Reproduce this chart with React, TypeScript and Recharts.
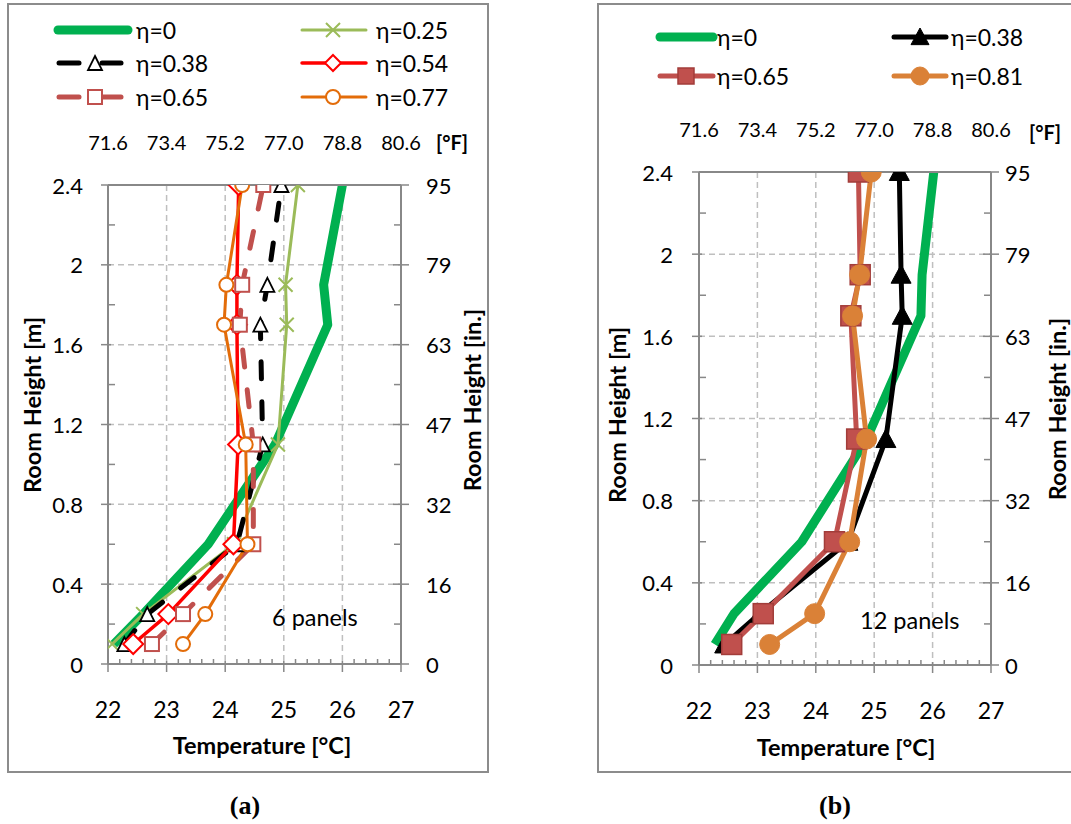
import React from "react";
import { LineChart, Line, XAxis, YAxis, CartesianGrid } from "recharts";

// measuring heights [m]
const heights = [0.1, 0.25, 0.6, 1.1, 1.7, 1.9, 2.4];

// (a) 6 panels, temperatures [°C] at each height
const aEta0 = [22.1, 22.6, 23.71, 24.85, 25.75, 25.68, 26.0];
const aEta025 = [22.07, 22.6, 24.15, 24.9, 25.05, 25.03, 25.24];
const aEta038 = [22.28, 22.67, 24.2, 24.64, 24.6, 24.72, 24.96];
const aEta054 = [22.43, 23.03, 24.14, 24.22, 24.2, 24.2, 24.23];
const aEta065 = [22.75, 23.28, 24.48, 24.48, 24.25, 24.29, 24.65];
const aEta077 = [23.28, 23.66, 24.38, 24.35, 23.98, 24.02, 24.29];

// (b) 12 panels
const bEta0 = [22.27, 22.6, 23.76, 24.87, 25.8, 25.82, 26.02];
const bEta038 = [22.44, 23.04, 24.55, 25.2, 25.48, 25.46, 25.43];
const bEta065 = [22.56, 23.1, 24.32, 24.7, 24.6, 24.76, 24.73];
const bEta081 = [23.21, 23.98, 24.58, 24.87, 24.63, 24.75, 24.95];

const aNames = ["η=0", "η=0.25", "η=0.38", "η=0.54", "η=0.65", "η=0.77"];
const bNames = ["η=0", "η=0.38", "η=0.65", "η=0.81"];

const xTicks = [
  22, 22.2, 22.4, 22.6, 22.8, 23, 23.2, 23.4, 23.6, 23.8, 24, 24.2, 24.4, 24.6, 24.8,
  25, 25.2, 25.4, 25.6, 25.8, 26, 26.2, 26.4, 26.6, 26.8, 27,
];
const xMajor = [22, 23, 24, 25, 26, 27];
const xLabels = ["22", "23", "24", "25", "26", "27"];
const fLabels = ["71.6", "73.4", "75.2", "77.0", "78.8", "80.6"];
const yTicks = [0, 0.2, 0.4, 0.6, 0.8, 1, 1.2, 1.4, 1.6, 1.8, 2, 2.2, 2.4];
const yMajor = [0, 0.4, 0.8, 1.2, 1.6, 2, 2.4];
const mLabels = ["0", "0.4", "0.8", "1.2", "1.6", "2", "2.4"];
const inLabels = ["0", "16", "32", "47", "63", "79", "95"];
const gridX = [23, 24, 25, 26];
const gridY = [0.4, 0.8, 1.2, 1.6, 2];

const FONT = "Lato, 'Open Sans', 'DejaVu Sans', sans-serif";
const AXIS = "#888888";
const GRID = "#BFBFBF";

const GREEN = "#00B050";
const LGREEN = "#9BBB59";
const RED = "#FF0000";
const BROWN = "#C0504D";
const ORANGE = "#E36C09";
const ORANGE2 = "#DA8137";

const toSeries = (temps: number[]) => heights.map((h, i) => ({ t: temps[i], h }));
const idx = (v: number, list: number[]) => list.findIndex((m) => Math.abs(m - v) < 1e-6);

// markers
const cross = (cx: number, cy: number, s = 7) => (
  <path d={`M${cx - s},${cy - s}L${cx + s},${cy + s}M${cx - s},${cy + s}L${cx + s},${cy - s}`} stroke={LGREEN} strokeWidth={2} fill="none" />
);
const openTri = (cx: number, cy: number, s = 7) => (
  <path d={`M${cx},${cy - s}L${cx + s},${cy + s}L${cx - s},${cy + s}Z`} fill="#fff" stroke="#000" strokeWidth={1.8} />
);
const openDiamond = (cx: number, cy: number, s = 10) => (
  <path d={`M${cx},${cy - s}L${cx + s},${cy}L${cx},${cy + s}L${cx - s},${cy}Z`} fill="#fff" stroke={RED} strokeWidth={2} />
);
const openSquare = (cx: number, cy: number, s = 7) => (
  <rect x={cx - s} y={cy - s} width={2 * s} height={2 * s} fill="#fff" stroke={BROWN} strokeWidth={2} />
);
const openCircle = (cx: number, cy: number, r = 7) => (
  <circle cx={cx} cy={cy} r={r} fill="#fff" stroke={ORANGE} strokeWidth={2} />
);
const fillTri = (cx: number, cy: number, s = 10) => (
  <path d={`M${cx},${cy - s}L${cx + s},${cy + s * 0.85}L${cx - s},${cy + s * 0.85}Z`} fill="#000" stroke="#000" strokeWidth={1} />
);
const fillSquare = (cx: number, cy: number, s = 10) => (
  <rect x={cx - s} y={cy - s} width={2 * s} height={2 * s} fill={BROWN} stroke="#A23D3A" strokeWidth={1.5} />
);
const fillCircle = (cx: number, cy: number, r = 10) => (
  <circle cx={cx} cy={cy} r={r} fill={ORANGE2} stroke={ORANGE2} strokeWidth={1} />
);

const dotOf = (mk: (cx: number, cy: number) => React.ReactElement) => (p: any) =>
  p.cx == null ? <g key={p.index} /> : <g key={p.index}>{mk(p.cx, p.cy)}</g>;

// ticks
const leftTick = (gap: number) => (p: any) => {
  const { x, y, payload } = p;
  const i = idx(payload.value, yMajor);
  if (i < 0) return <line x1={x} x2={x + 7} y1={y} y2={y} stroke={AXIS} strokeWidth={1.5} />;
  return (
    <g>
      <line x1={x - 7} x2={x + 3} y1={y} y2={y} stroke={AXIS} strokeWidth={1.5} />
      <text x={x - gap} y={y} textAnchor="end" dominantBaseline="central" fontSize={22} fontFamily={FONT} fill="#000">
        {mLabels[i]}
      </text>
    </g>
  );
};
const rightTick = (gap: number) => (p: any) => {
  const { x, y, payload } = p;
  const i = idx(payload.value, yMajor);
  if (i < 0) return <line x1={x - 7} x2={x} y1={y} y2={y} stroke={AXIS} strokeWidth={1.5} />;
  return (
    <g>
      <line x1={x - 8} x2={x + 8} y1={y} y2={y} stroke={AXIS} strokeWidth={1.5} />
      <text x={x + gap} y={y} textAnchor="start" dominantBaseline="central" fontSize={22} fontFamily={FONT} fill="#000">
        {inLabels[i]}
      </text>
    </g>
  );
};
const bottomTick = (p: any) => {
  const { x, y, payload } = p;
  const i = idx(payload.value, xMajor);
  if (i < 0) return <line x1={x} x2={x} y1={y - 5} y2={y} stroke={AXIS} strokeWidth={1.5} />;
  return (
    <g>
      <line x1={x} x2={x} y1={y - 3} y2={y + 8} stroke={AXIS} strokeWidth={1.5} />
      <text x={x} y={y + 54} textAnchor="middle" fontSize={23} fontFamily={FONT} fill="#000">
        {xLabels[i]}
      </text>
    </g>
  );
};
const topTick = (p: any) => {
  const { x, y, payload } = p;
  const i = idx(payload.value, xMajor);
  return (
    <text x={x} y={y - 35} textAnchor="middle" fontSize={20} fontFamily={FONT} fill="#000">
      {fLabels[i]}
    </text>
  );
};

type Series = {
  data: number[];
  color: string;
  width: number;
  dash?: string;
  marker?: (cx: number, cy: number) => React.ReactElement;
};

const aSeries: Series[] = [
  { data: aEta0, color: GREEN, width: 9 },
  { data: aEta025, color: LGREEN, width: 3, marker: cross },
  { data: aEta038, color: "#000", width: 5, dash: "17 23", marker: openTri },
  { data: aEta054, color: RED, width: 3.5, marker: openDiamond },
  { data: aEta065, color: BROWN, width: 5, dash: "17 23", marker: openSquare },
  { data: aEta077, color: ORANGE, width: 3, marker: openCircle },
];
const bSeries: Series[] = [
  { data: bEta0, color: GREEN, width: 9 },
  { data: bEta038, color: "#000", width: 5, marker: fillTri },
  { data: bEta065, color: BROWN, width: 5, marker: fillSquare },
  { data: bEta081, color: ORANGE2, width: 5, marker: fillCircle },
];

function Panel(props: {
  left: number;
  width: number;
  leftW: number;
  rightW: number;
  topH: number;
  botH: number;
  leftGap: number;
  rightGap: number;
  series: Series[];
}) {
  const { left, width, leftW, rightW, topH, botH, leftGap, rightGap, series } = props;
  return (
    <div style={{ position: "absolute", left, top: 0 }}>
      <LineChart width={width} height={772} margin={{ top: 0, right: 0, bottom: 0, left: 0 }}>
        <CartesianGrid
          xAxisId="bottom"
          yAxisId="left"
          horizontalValues={gridY}
          verticalValues={gridX}
          stroke={GRID}
          strokeWidth={1.5}
          strokeDasharray="6 4"
        />
        <XAxis
          xAxisId="bottom"
          type="number"
          dataKey="t"
          domain={[22, 27]}
          ticks={xTicks}
          interval={0}
          tickSize={0}
          tickMargin={0}
          tick={bottomTick}
          tickLine={false}
          axisLine={{ stroke: AXIS, strokeWidth: 2 }}
          height={botH}
          allowDataOverflow
        />
        <XAxis
          xAxisId="top"
          orientation="top"
          type="number"
          dataKey="t"
          domain={[22, 27]}
          ticks={xMajor}
          interval={0}
          tickSize={0}
          tickMargin={0}
          tick={topTick}
          tickLine={false}
          axisLine={{ stroke: AXIS, strokeWidth: 2 }}
          height={topH}
          allowDataOverflow
        />
        <YAxis
          yAxisId="left"
          type="number"
          domain={[0, 2.4]}
          ticks={yTicks}
          interval={0}
          tickSize={0}
          tickMargin={0}
          tick={leftTick(leftGap)}
          tickLine={false}
          axisLine={{ stroke: AXIS, strokeWidth: 2 }}
          width={leftW}
          allowDataOverflow
        />
        <YAxis
          yAxisId="right"
          orientation="right"
          type="number"
          domain={[0, 2.4]}
          ticks={yTicks}
          interval={0}
          tickSize={0}
          tickMargin={0}
          tick={rightTick(rightGap)}
          tickLine={false}
          axisLine={{ stroke: AXIS, strokeWidth: 2 }}
          width={rightW}
          allowDataOverflow
        />
        {/* invisible copy on the secondary axes so that they get a domain */}
        <Line
          xAxisId="top"
          yAxisId="right"
          data={toSeries(series[0].data)}
          dataKey="h"
          stroke="none"
          dot={false}
          activeDot={false}
          isAnimationActive={false}
        />
        {series.map((s, i) => (
          <Line
            key={i}
            xAxisId="bottom"
            yAxisId="left"
            data={toSeries(s.data)}
            dataKey="h"
            type="linear"
            stroke={s.color}
            strokeWidth={s.width}
            strokeDasharray={s.dash}
            strokeLinecap={s.dash ? "round" : "butt"}
            strokeLinejoin="round"
            dot={s.marker ? dotOf(s.marker) : false}
            activeDot={false}
            isAnimationActive={false}
          />
        ))}
      </LineChart>
    </div>
  );
}

const txt = { fontFamily: FONT, fill: "#000" };
const LEG = 23;
const TITLE = 23.5;

export default function App() {
  return (
    <div style={{ position: "absolute", left: 0, top: 0, width: 1071, height: 824, background: "#fff", overflow: "hidden" }}>
      <Panel left={0} width={488} leftW={108} rightW={87} topH={185} botH={108} leftGap={25} rightGap={25} series={aSeries} />
      <Panel left={598} width={473} leftW={101} rightW={80} topH={172} botH={107} leftGap={26} rightGap={14} series={bSeries} />
      <svg width={1071} height={824} style={{ position: "absolute", left: 0, top: 0, pointerEvents: "none" }}>
        <rect x={8} y={4} width={480} height={768} fill="none" stroke="#8C8C8C" strokeWidth={2} />
        <rect x={598} y={4} width={490} height={768} fill="none" stroke="#8C8C8C" strokeWidth={2} />

        {/* legend (a) */}
        <line x1={58} x2={128} y1={30} y2={30} stroke={GREEN} strokeWidth={9} strokeLinecap="round" />
        <text x={136} y={30} dominantBaseline="central" fontSize={LEG} {...txt}>{aNames[0]}</text>
        <line x1={302} x2={366} y1={30} y2={30} stroke={LGREEN} strokeWidth={3} strokeLinecap="round" />
        {cross(333, 30, 7)}
        <text x={376} y={30} dominantBaseline="central" fontSize={LEG} {...txt}>{aNames[1]}</text>

        <line x1={59} x2={79} y1={63} y2={63} stroke="#000" strokeWidth={5} strokeLinecap="round" />
        <line x1={102} x2={121} y1={63} y2={63} stroke="#000" strokeWidth={5} strokeLinecap="round" />
        {openTri(95, 63, 7)}
        <text x={136} y={63} dominantBaseline="central" fontSize={LEG} {...txt}>{aNames[2]}</text>
        <line x1={302} x2={366} y1={63} y2={63} stroke={RED} strokeWidth={3.5} strokeLinecap="round" />
        {openDiamond(333, 63, 8)}
        <text x={376} y={63} dominantBaseline="central" fontSize={LEG} {...txt}>{aNames[3]}</text>

        <line x1={59} x2={79} y1={97} y2={97} stroke={BROWN} strokeWidth={5} strokeLinecap="round" />
        <line x1={102} x2={121} y1={97} y2={97} stroke={BROWN} strokeWidth={5} strokeLinecap="round" />
        {openSquare(95, 97, 7)}
        <text x={136} y={97} dominantBaseline="central" fontSize={LEG} {...txt}>{aNames[4]}</text>
        <line x1={302} x2={366} y1={97} y2={97} stroke={ORANGE} strokeWidth={3} strokeLinecap="round" />
        {openCircle(333, 97, 7)}
        <text x={376} y={97} dominantBaseline="central" fontSize={LEG} {...txt}>{aNames[5]}</text>

        {/* legend (b) */}
        <line x1={660} x2={713} y1={37} y2={37} stroke={GREEN} strokeWidth={9} strokeLinecap="round" />
        <text x={717} y={37} dominantBaseline="central" fontSize={LEG} {...txt}>{bNames[0]}</text>
        <line x1={894} x2={946} y1={37} y2={37} stroke="#000" strokeWidth={5} strokeLinecap="round" />
        {fillTri(920, 37, 9)}
        <text x={951} y={37} dominantBaseline="central" fontSize={LEG} {...txt}>{bNames[1]}</text>
        <line x1={660} x2={713} y1={76} y2={76} stroke={BROWN} strokeWidth={5} strokeLinecap="round" />
        {fillSquare(686, 76, 8)}
        <text x={717} y={76} dominantBaseline="central" fontSize={LEG} {...txt}>{bNames[2]}</text>
        <line x1={894} x2={946} y1={76} y2={76} stroke={ORANGE2} strokeWidth={5} strokeLinecap="round" />
        {fillCircle(920, 76, 9)}
        <text x={951} y={76} dominantBaseline="central" fontSize={LEG} {...txt}>{bNames[3]}</text>

        {/* unit labels and axis titles */}
        <text x={452} y={150} textAnchor="middle" fontSize={20} fontWeight="bold" {...txt}>[°F]</text>
        <text x={1045} y={140} textAnchor="middle" fontSize={20} fontWeight="bold" {...txt}>[°F]</text>

        <text transform="translate(32,405) rotate(-90)" textAnchor="middle" dominantBaseline="central" fontSize={TITLE} fontWeight="bold" {...txt}>Room Height [m]</text>
        <text transform="translate(472,400) rotate(-90)" textAnchor="middle" dominantBaseline="central" fontSize={TITLE} fontWeight="bold" {...txt}>Room Height [in.]</text>
        <text transform="translate(617,415) rotate(-90)" textAnchor="middle" dominantBaseline="central" fontSize={TITLE} fontWeight="bold" {...txt}>Room Height [m]</text>
        <text transform="translate(1057,409) rotate(-90)" textAnchor="middle" dominantBaseline="central" fontSize={TITLE} fontWeight="bold" {...txt}>Room Height [in.]</text>

        <text x={262} y={745} textAnchor="middle" dominantBaseline="central" fontSize={TITLE} fontWeight="bold" {...txt}>Temperature [°C]</text>
        <text x={846} y={747} textAnchor="middle" dominantBaseline="central" fontSize={TITLE} fontWeight="bold" {...txt}>Temperature [°C]</text>

        <text x={272} y={617} dominantBaseline="central" fontSize={23.5} {...txt}>6 panels</text>
        <text x={860} y={620} dominantBaseline="central" fontSize={23.5} {...txt}>12 panels</text>

        <text x={245} y={805} textAnchor="middle" dominantBaseline="central" fontSize={26} fontWeight="bold" fontFamily="'Liberation Serif', 'Times New Roman', serif">(a)</text>
        <text x={835} y={805} textAnchor="middle" dominantBaseline="central" fontSize={26} fontWeight="bold" fontFamily="'Liberation Serif', 'Times New Roman', serif">(b)</text>
      </svg>
    </div>
  );
}
